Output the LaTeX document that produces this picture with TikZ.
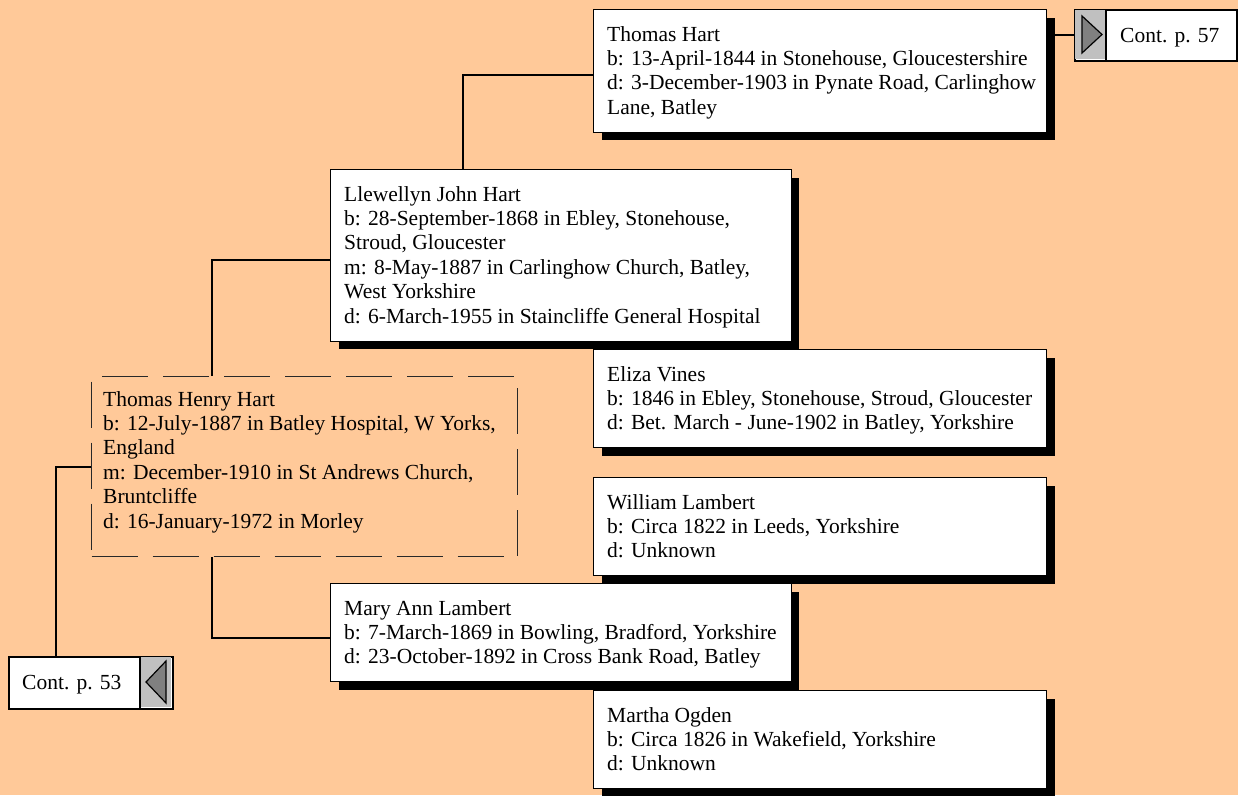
\documentclass[tikz,border=0pt]{standalone}
\usepackage{fontspec}
\setmainfont{Liberation Serif}
\usetikzlibrary{shadows}
\definecolor{bg}{RGB}{255,201,153}
\definecolor{contgrey}{RGB}{192,192,192}
\definecolor{arrowgrey}{RGB}{128,128,128}
\definecolor{edgegrey}{RGB}{40,40,40}
\tikzset{
  person/.style={draw=black, line width=1.3pt, fill=white, anchor=north west, inner sep=0pt,
    drop shadow={shadow xshift=8pt, shadow yshift=-8pt, opacity=1, fill=black}},
  dashperson/.style={draw=edgegrey, line width=1.4pt, anchor=north west, inner sep=0pt,
    dash pattern=on 46pt off 15pt},
  contbox/.style={draw=black, line width=1.6pt, fill=white, anchor=north west, inner sep=0pt},
  conn/.style={draw=black, line width=1.7pt},
  txt/.style={anchor=base west, inner sep=0pt, font=\fontsize{21.5}{24.4}\selectfont},
  tri/.style={fill=arrowgrey, draw=black, line width=1.2pt, line join=miter},
}
\newcommand{\lns}[1]{\begin{tabular}[t]{@{}l@{}}#1\end{tabular}}
\begin{document}
\begin{tikzpicture}[x=1pt, y=-1pt]
\useasboundingbox (0,0) rectangle (1238,795);
\fill[bg] (0,0) rectangle (1238,795);

% boxes
\node[person, minimum width=453pt, minimum height=122.5pt] (th) at (593,9) {};
\node[person, minimum width=460.5pt, minimum height=171.5pt] (ljh) at (330,169) {};
\node[person, minimum width=453pt, minimum height=98pt] (ev) at (593,349) {};
\node[dashperson, minimum width=426pt, minimum height=180pt] (thh) at (91,376) {};
\node[person, minimum width=453pt, minimum height=98pt] (wl) at (593,477) {};
\node[person, minimum width=460.5pt, minimum height=98pt] (mal) at (330,583) {};
\node[person, minimum width=453pt, minimum height=98pt] (mo) at (593,690) {};

% texts
\node[txt] (tht) at (607,41) {\lns{Thomas Hart\\ b: 13-April-1844 in Stonehouse, Gloucestershire\\ d: 3-December-1903 in Pynate Road, Carlinghow\\ Lane, Batley}};
\node[txt] (ljht) at (344,201) {\lns{Llewellyn John Hart\\ b: 28-September-1868 in Ebley, Stonehouse,\\ Stroud, Gloucester\\ m: 8-May-1887 in Carlinghow Church, Batley,\\ West Yorkshire\\ d: 6-March-1955 in Staincliffe General Hospital}};
\node[txt] (evt) at (607,381) {\lns{Eliza Vines\\ b: 1846 in Ebley, Stonehouse, Stroud, Gloucester\\ d: Bet. March - June-1902 in Batley, Yorkshire}};
\node[txt] (thht) at (103,406) {\lns{Thomas Henry Hart\\ b: 12-July-1887 in Batley Hospital, W Yorks,\\ England\\ m: December-1910 in St Andrews Church,\\ Bruntcliffe\\ d: 16-January-1972 in Morley}};
\node[txt] (wlt) at (607,509) {\lns{William Lambert\\ b: Circa 1822 in Leeds, Yorkshire\\ d: Unknown}};
\node[txt] (malt) at (344,615) {\lns{Mary Ann Lambert\\ b: 7-March-1869 in Bowling, Bradford, Yorkshire\\ d: 23-October-1892 in Cross Bank Road, Batley}};
\node[txt] (mot) at (607,722) {\lns{Martha Ogden\\ b: Circa 1826 in Wakefield, Yorkshire\\ d: Unknown}};

% continuation boxes
\node[contbox, minimum width=162pt, minimum height=51pt] (c57) at (1074,9) {};
\fill[contgrey] (1074.8,9.8) rectangle (1106,59.2);
\draw[black, line width=1.2pt] (1106,9) -- (1106,60);
\draw[tri] (1082,16) -- (1102,34.5) -- (1082,53) -- cycle;
\node[txt] (c57t) at (1120,42) {Cont. p. 57};

\node[contbox, minimum width=164pt, minimum height=52pt] (c53) at (8,656) {};
\fill[contgrey] (140,656.8) rectangle (171.2,707.2);
\draw[black, line width=1.2pt] (140,656) -- (140,708);
\draw[tri] (166,661) -- (146,682) -- (166,703) -- cycle;
\node[txt] (c53t) at (22,689) {Cont. p. 53};

% connectors
\draw[conn] ([yshift=-4pt]th.west) -| ([xshift=-98pt]ljh.north);
\draw[conn] ([yshift=-4.5pt]ljh.west) -| ([xshift=-93pt]thh.north);
\draw[conn] ([xshift=-93pt]thh.south) |- ([yshift=-5pt]mal.west);
\draw[conn] (thh.west) -| ([xshift=-35pt]c53.north);
\draw[conn] (th.east |- c57.west) -- (c57.west);
\end{tikzpicture}
\end{document}
